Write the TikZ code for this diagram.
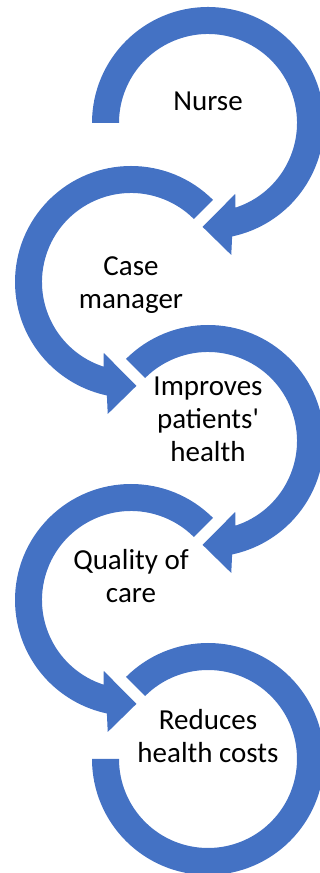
\documentclass[tikz,border=0pt]{standalone}
\usepackage{fontspec}
\setmainfont{Carlito}
\usetikzlibrary{positioning}
\definecolor{ringblue}{HTML}{4472C4}

\begin{document}
\begin{tikzpicture}[x=1pt,y=1pt,
	ring/.style	={fill=ringblue},
	caption/.style	={align=center,inner sep=0pt,font=\fontsize{29}{33}\selectfont},
	]
	\useasboundingbox (0,0) rectangle (320,873);
	\clip (0,0) rectangle (320,873);
	
	\coordinate (c1) at (208,750);
	\coordinate (c2) at (131,591);
	\coordinate (c3) at (208,432);
	\coordinate (c4) at (131,273);
	\coordinate (c5) at (208,114);
	
	% rings turning right
	\foreach \ctr/\beg in {c1/180, c3/135}
	{
		\fill [ring,shift={(\ctr)}] (\beg:116) arc [start angle=\beg, end angle=-78, radius=116]
			-- (-80:134) -- (-93:104) -- (-69:76) -- (-72:89)
			arc [start angle=-72, end angle=\beg, radius=89] -- cycle;
	}
	
	% rings turning left
	\foreach \ctr in {c2, c4}
	{
		\fill [ring,shift={(\ctr)}] (45:116) arc [start angle=45, end angle=258, radius=116]
			-- (260:134) -- (273:104) -- (249:76) -- (252:89)
			arc [start angle=252, end angle=45, radius=89] -- cycle;
	}
	
	\fill [ring,shift={(c5)}] (180:116) arc [start angle=180, end angle=495, radius=116]
		-- (135:89) arc [start angle=495, end angle=180, radius=89] -- cycle;
	
	\node [caption] (nurse) at ([yshift=22]c1) {Nurse};
	\node [caption] (case) at ([yshift=-3]c2) {Case\\ manager};
	\node [caption] (improves) at ([yshift=22]c3) {Improves\\ patients\textquotesingle\\ health};
	\node [caption] (quality) at ([yshift=24]c4) {Quality of\\ care};
	\node [caption] (reduces) at ([yshift=23]c5) {Reduces\\ health costs};
\end{tikzpicture}
\end{document}
